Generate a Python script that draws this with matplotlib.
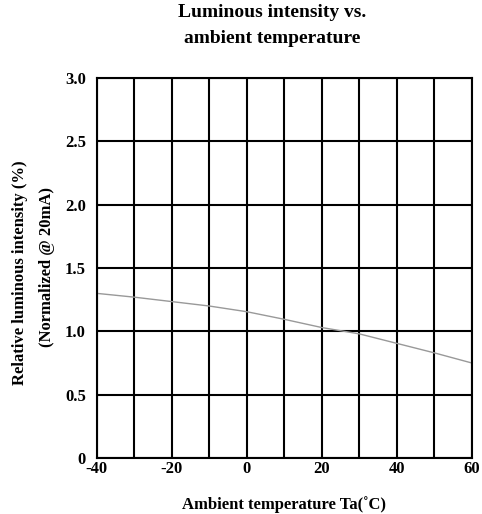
import matplotlib
matplotlib.use("Agg")
from matplotlib import pyplot as plt
import numpy as np

# values
temp = [-40, -30, -20, -10, 0, 10, 20, 30, 40, 50, 60]
rel_intensity = [1.30, 1.27, 1.235, 1.20, 1.155, 1.095, 1.03, 0.98, 0.905, 0.83, 0.75]
x_ticks = [-40, -20, 0, 20, 40, 60]
y_ticks = [0, 0.5, 1.0, 1.5, 2.0, 2.5, 3.0]
y_tick_labels = ["0", "0.5", "1.0", "1.5", "2.0", "2.5", "3.0"]

plt.rcParams['font.family'] = ['Liberation Serif', 'DejaVu Serif']
plt.rcParams['font.weight'] = 'bold'
plt.rcParams['axes.unicode_minus'] = False

fig = plt.figure(figsize=(4.82, 5.14), dpi=100)
ax = fig.add_axes([0.201, 0.109, 0.778, 0.739])

ax.plot(temp, rel_intensity, color='#999999', lw=1.0)

ax.set_xlim(-40, 60)
ax.set_ylim(0, 3.0)
ax.set_xticks(x_ticks)
ax.set_yticks(y_ticks)
ax.set_yticklabels(y_tick_labels)
ax.set_xticks(np.arange(-40, 61, 10), minor=True)

ax.grid(True, which='both', color='black', lw=1.5)
ax.tick_params(which='both', length=0, labelsize=12)
ax.tick_params(axis='y', pad=8)
ax.tick_params(axis='x', pad=2)
for s in ax.spines.values():
    s.set_linewidth(1.5)
for lab in ax.get_xticklabels() + ax.get_yticklabels():
    lab.set_fontweight('bold')

ax.set_xlabel("Ambient temperature Ta(\u02daC)", fontsize=12, fontweight='bold', labelpad=14)
fig.text(0.042, 0.47, "Relative luminous intensity (%)", rotation=90,
         ha='center', va='center', fontsize=12, fontweight='bold')
fig.text(0.098, 0.48, "(Normalized @ 20mA)", rotation=90,
         ha='center', va='center', fontsize=12, fontweight='bold')
fig.text(0.565, 0.976, "Luminous intensity vs.", ha='center', va='center',
         fontsize=14, fontweight='bold')
fig.text(0.565, 0.926, "ambient temperature", ha='center', va='center',
         fontsize=14, fontweight='bold')

fig.savefig("out.png", dpi=100)
